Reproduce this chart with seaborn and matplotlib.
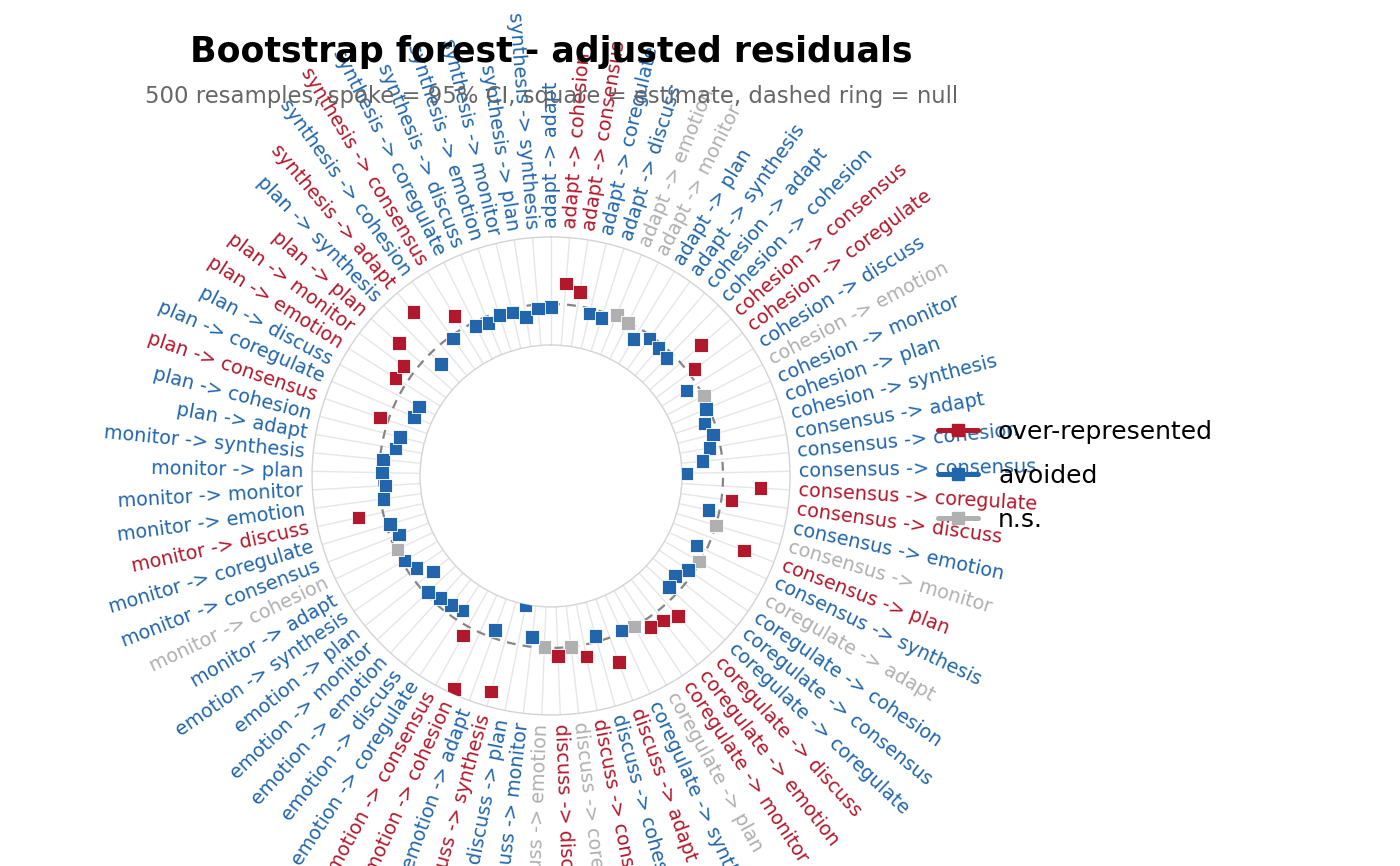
"""Bootstrap forest of adjusted residuals, drawn as a radial dot chart."""
import matplotlib
matplotlib.use("Agg")
import matplotlib.pyplot as plt
from matplotlib.lines import Line2D
import numpy as np
import pandas as pd
import seaborn as sns

STATES = ["adapt", "cohesion", "consensus", "coregulate", "discuss",
          "emotion", "monitor", "plan", "synthesis"]

# adjusted residual estimate per transition (row = from-state, col = to-state)
RESID = [
    [-0.3, 2.1, 1.4, -0.5, -0.6, 0.2, -0.1, -1.2, -0.3],   # adapt
    [-0.5, -0.7, 2.7, 0.7, -1.2, 0.1, -0.3, -1.0, -0.5],   # cohesion
    [-1.1, -2.0, -3.7, 3.8, 1.0, -1.1, 0.0, 3.5, -1.1],    # consensus
    [-0.1, -0.6, -1.3, -1.0, 1.7, 1.1, 0.9, 0.0, -0.2],    # coregulate
    [2.6, -0.6, 1.2, 0.0, 0.8, -0.1, -1.0, -4.0, 5.2],     # discuss
    [-0.8, 6.2, 1.0, -1.1, -0.9, -0.7, -0.3, -2.0, -0.9],  # emotion
    [-0.3, -0.2, -0.9, -0.4, 2.5, -0.3, -0.6, -0.3, -0.3], # monitor
    [-1.4, -1.6, 0.9, -2.3, -2.3, 1.2, 1.2, 3.0, -1.5],    # plan
    [4.2, -0.3, 1.5, -0.4, -0.7, -0.3, -0.4, -1.1, -0.4],  # synthesis
]

# O = over-represented, A = avoided, N = n.s.
STATUS = [
    "AOOAANNAA",
    "AAOOANAAA",
    "AAAOOANOA",
    "NAAAOOONA",
    "OAONONAAO",
    "AOOAAAAAA",
    "ANAAOAAAA",
    "AAOAAOOOA",
    "OAOAAAAAA",
]

STATUS_NAME = {"O": "over-represented", "A": "avoided", "N": "n.s."}
PALETTE = {"over-represented": "#b2182b", "avoided": "#2166ac", "n.s.": "#b0b0b0"}


def main() -> None:
    sns.set_theme(style="white")
    plt.rcParams["font.family"] = ["DejaVu Sans"]
    plt.rcParams["text.color"] = "black"

    rows = []
    for i, src in enumerate(STATES):
        for j, dst in enumerate(STATES):
            rows.append({"label": f"{src} -> {dst}", "resid": RESID[i][j],
                         "status": STATUS_NAME[STATUS[i][j]]})
    df = pd.DataFrame(rows)
    n = len(df)
    df["theta"] = np.arange(n) * 2 * np.pi / n

    fig = plt.figure(figsize=(14, 8.66), dpi=100)
    ax = fig.add_axes([0.2229, 0.1744, 0.3414, 0.552], projection="polar")
    ax.set_theta_zero_location("N")
    ax.set_theta_direction(-1)
    ax.set_ylim(-4.1, 6.7)
    ax.set_rorigin(-17.2)

    ax.set_xticks(df["theta"])
    ax.set_xticklabels([])
    ax.set_yticks([])
    ax.xaxis.grid(True, color="#e6e6e6", lw=1)
    for sp in ax.spines.values():
        sp.set_color("#d4d4d4")
        sp.set_linewidth(1.0)

    # null ring
    ring = np.linspace(0, 2 * np.pi, 400)
    ax.plot(ring, np.zeros_like(ring), ls=(0, (4, 3.2)), color="#858585", lw=1.6, zorder=2)

    sns.scatterplot(data=df, x="theta", y="resid", hue="status", palette=PALETTE,
                    marker="s", s=95, edgecolor="#ffffff", linewidth=0.6,
                    legend=False, ax=ax, zorder=3)
    ax.set_xlabel("")
    ax.set_ylabel("")

    # spoke labels outside the ring
    for th, lab, st in zip(df["theta"], df["label"], df["status"]):
        deg = np.degrees(th)
        if deg <= 180:
            rot, ha = 90 - deg, "left"
        else:
            rot, ha = 270 - deg, "right"
        ax.text(th, 7.6, lab, rotation=rot, ha=ha, va="center",
                rotation_mode="anchor", fontsize=13.9, color=PALETTE[st])

    fig.text(0.394, 1 - 52 / 866, "Bootstrap forest - adjusted residuals",
             ha="center", va="center", fontsize=25, fontweight="bold", color="black")
    fig.text(0.394, 1 - 96 / 866,
             "500 resamples, spoke = 95% CI, square = estimate, dashed ring = null",
             ha="center", va="center", fontsize=16.4, color="#666666")

    handles = [Line2D([], [], color=PALETTE[k], lw=3.6, marker="s", markersize=9)
               for k in ["over-represented", "avoided", "n.s."]]
    leg = fig.legend(handles, ["over-represented", "avoided", "n.s."], loc="center left",
                     bbox_to_anchor=(0.670, 1 - 476 / 866), frameon=False, fontsize=18,
                     handlelength=1.6, handletextpad=0.8, labelspacing=0.8,
                     borderpad=0, borderaxespad=0)
    for t in leg.get_texts():
        t.set_color("black")

    fig.savefig("out.png", dpi=100)
    plt.close(fig)


if __name__ == "__main__":
    main()
